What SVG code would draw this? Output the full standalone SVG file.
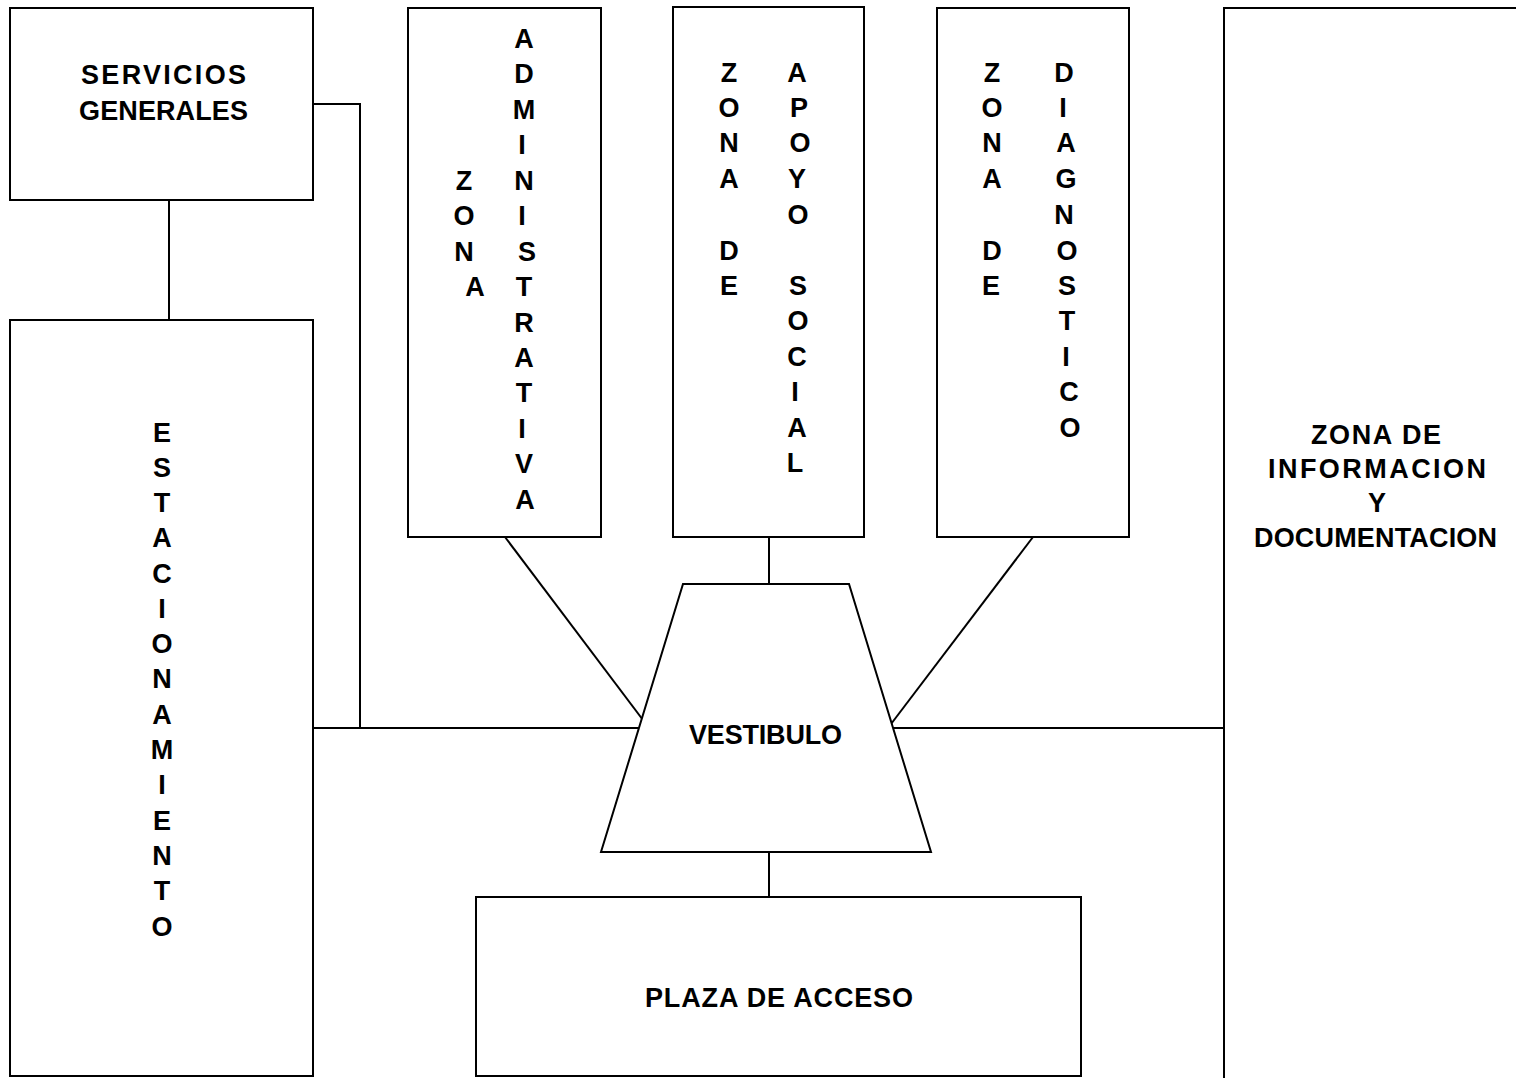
<svg xmlns="http://www.w3.org/2000/svg" width="1516" height="1078" viewBox="0 0 1516 1078">
<style>
.box{fill:#fff;stroke:#000;stroke-width:2}
.con{fill:none;stroke:#000;stroke-width:2}
text{font-family:"Liberation Sans",Arial,sans-serif;font-weight:bold;font-size:27px;fill:#000}
.v{text-anchor:middle}
</style>
<rect width="1516" height="1078" fill="#fff"/>
<g id="connectors">
<polyline class="con" points="313,104 360,104 360,728"/>
<line class="con" x1="169" y1="200" x2="169" y2="320"/>
<line class="con" x1="313" y1="728" x2="649" y2="728"/>
<line class="con" x1="505" y1="537" x2="649" y2="728"/>
<line class="con" x1="769" y1="537" x2="769" y2="584"/>
<line class="con" x1="1033" y1="537" x2="888" y2="728"/>
<line class="con" x1="888" y1="728" x2="1224" y2="728"/>
<line class="con" x1="769" y1="848" x2="769" y2="897"/>
</g>
<g id="servicios-generales">
<rect class="box" x="10" y="8" width="303" height="192"/>
<text x="81" y="84" textLength="165" lengthAdjust="spacing">SERVICIOS</text>
<text x="79" y="120" textLength="169" lengthAdjust="spacing">GENERALES</text>
</g>
<g id="estacionamiento">
<rect class="box" x="10" y="320" width="303" height="756"/>
<text class="v" x="162" y="442">E</text>
<text class="v" x="162" y="477">S</text>
<text class="v" x="162" y="512">T</text>
<text class="v" x="162" y="547">A</text>
<text class="v" x="162" y="583">C</text>
<text class="v" x="162" y="618">I</text>
<text class="v" x="162" y="653">O</text>
<text class="v" x="162" y="688">N</text>
<text class="v" x="162" y="724">A</text>
<text class="v" x="162" y="759">M</text>
<text class="v" x="162" y="794">I</text>
<text class="v" x="162" y="830">E</text>
<text class="v" x="162" y="865">N</text>
<text class="v" x="162" y="900">T</text>
<text class="v" x="162" y="936">O</text>
</g>
<g id="zona-administrativa">
<rect class="box" x="408" y="8" width="193" height="529"/>
<text class="v" x="464" y="190">Z</text>
<text class="v" x="464" y="225">O</text>
<text class="v" x="464" y="261">N</text>
<text class="v" x="475" y="296">A</text>
<text class="v" x="524" y="48">A</text>
<text class="v" x="524" y="83">D</text>
<text class="v" x="524" y="119">M</text>
<text class="v" x="522" y="154">I</text>
<text class="v" x="524" y="190">N</text>
<text class="v" x="522" y="225">I</text>
<text class="v" x="527" y="261">S</text>
<text class="v" x="524" y="296">T</text>
<text class="v" x="524" y="332">R</text>
<text class="v" x="524" y="367">A</text>
<text class="v" x="524" y="402">T</text>
<text class="v" x="522" y="438">I</text>
<text class="v" x="524" y="473">V</text>
<text class="v" x="525" y="509">A</text>
</g>
<g id="zona-apoyo-social">
<rect class="box" x="673" y="7" width="191" height="530"/>
<text class="v" x="729" y="82">Z</text>
<text class="v" x="729" y="117">O</text>
<text class="v" x="729" y="152">N</text>
<text class="v" x="729" y="188">A</text>
<text class="v" x="729" y="260">D</text>
<text class="v" x="729" y="295">E</text>
<text class="v" x="797" y="82">A</text>
<text class="v" x="799" y="117">P</text>
<text class="v" x="800" y="152">O</text>
<text class="v" x="797" y="188">Y</text>
<text class="v" x="798" y="224">O</text>
<text class="v" x="798" y="295">S</text>
<text class="v" x="798" y="330">O</text>
<text class="v" x="797" y="366">C</text>
<text class="v" x="795" y="401">I</text>
<text class="v" x="797" y="437">A</text>
<text class="v" x="795" y="472">L</text>
</g>
<g id="zona-diagnostico">
<rect class="box" x="937" y="8" width="192" height="529"/>
<text class="v" x="992" y="82">Z</text>
<text class="v" x="992" y="117">O</text>
<text class="v" x="992" y="152">N</text>
<text class="v" x="992" y="188">A</text>
<text class="v" x="992" y="260">D</text>
<text class="v" x="991" y="295">E</text>
<text class="v" x="1064" y="82">D</text>
<text class="v" x="1063" y="117">I</text>
<text class="v" x="1066" y="152">A</text>
<text class="v" x="1066" y="188">G</text>
<text class="v" x="1064" y="224">N</text>
<text class="v" x="1067" y="260">O</text>
<text class="v" x="1067" y="295">S</text>
<text class="v" x="1067" y="330">T</text>
<text class="v" x="1066" y="366">I</text>
<text class="v" x="1069" y="401">C</text>
<text class="v" x="1070" y="437">O</text>
</g>
<g id="zona-informacion">
<rect class="box" x="1224" y="8" width="400" height="1200"/>
<text x="1311" y="444" textLength="130" lengthAdjust="spacing">ZONA DE</text>
<text x="1268" y="478" textLength="218" lengthAdjust="spacing">INFORMACION</text>
<text class="v" x="1377" y="512">Y</text>
<text x="1254" y="547" textLength="243" lengthAdjust="spacing">DOCUMENTACION</text>
</g>
<g id="vestibulo">
<polygon class="box" points="683,584 849,584 931,852 601,852"/>
<text x="689" y="744" textLength="153" lengthAdjust="spacing">VESTIBULO</text>
</g>
<g id="plaza-acceso">
<rect class="box" x="476" y="897" width="605" height="179"/>
<text x="645" y="1007" textLength="268" lengthAdjust="spacing">PLAZA DE ACCESO</text>
</g>
</svg>
